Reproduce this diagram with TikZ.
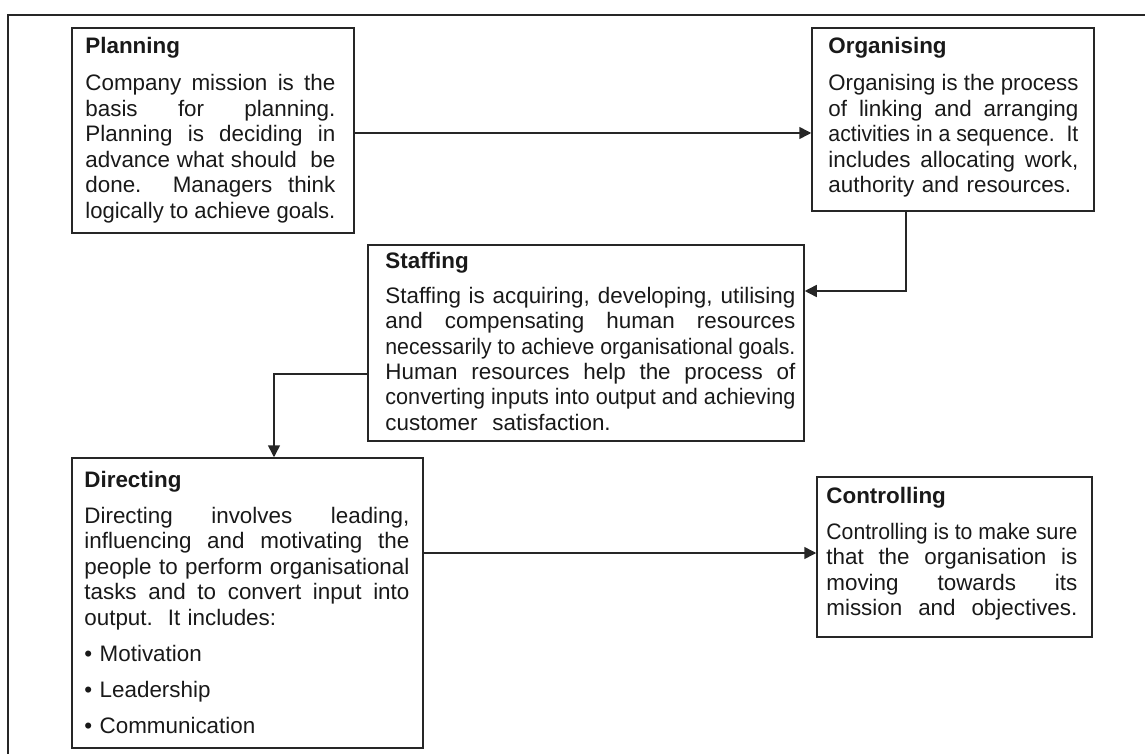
\documentclass[tikz,border=0pt]{standalone}
\usepackage{fontspec}
\usepackage{graphicx}
\setmainfont{Liberation Sans}
\usetikzlibrary{arrows.meta,fit}
\hbadness=10000
\hfuzz=30pt

% a line set to the full text width: spaces stretch when it is short,
% the whole line is narrowed a little when it is too long
\newdimen\lineht
\newsavebox{\linebox}
\newcommand{\fitline}[1]{\leavevmode{%
  \spaceskip=0.278em plus 3em minus 0.05em
  \xspaceskip=0.278em plus 3em minus 0.05em
  \sbox{\linebox}{#1}%
  \ifdim\wd\linebox>\hsize
    \lineht=\ht\linebox
    \resizebox{\hsize}{\lineht}{\usebox{\linebox}}%
  \else
    \hbox to \hsize{#1}%
  \fi}}
\newcommand{\jline}[1]{\fitline{#1}\\}
\newcommand{\pline}[1]{#1\\}

\begin{document}
\begin{tikzpicture}[x=0.5pt,y=-0.5pt,
  ink/.style={draw=black!85, line width=0.75pt},
  box/.style={ink, inner sep=0pt, rectangle},
  head/.style={anchor=base west, inner sep=0pt,
    font=\fontsize{11.2}{12.75}\selectfont\bfseries, text=black!90},
  body/.style={anchor=base west, inner sep=0pt, align=left,
    font=\fontsize{11.2}{12.75}\selectfont, text=black!90},
  link/.style={ink, -{Triangle[length=6pt,width=6pt]}}]

\useasboundingbox (0,0) rectangle (1145,754);

% outer frame
\draw[ink] (8,754) -- (8,15) -- (1145,15);

% boxes
\node[box, fit={(72,28) (354,233)}]   (pl)  {};
\node[box, fit={(812,28) (1094,211)}] (org) {};
\node[box, fit={(368,245) (804,441)}] (st)  {};
\node[box, fit={(72,458) (423,748)}]  (dir) {};
\node[box, fit={(817,477) (1092,637)}] (ctl) {};

% Planning
\node[head] (plh) at (85,54) {Planning};
\node[body, text width=125pt] (plb) at (85,90.7) {%
\jline{Company mission is the}
\jline{basis for planning.}
\jline{Planning is deciding in}
\jline{advance what should\ \ be}
\jline{done.\ \ Managers think}
\fitline{logically to achieve goals.}};

% Organising
\node[head] (orgh) at (828,54) {Organising};
\node[body, text width=125pt] (orgb) at (828,90.7) {%
\jline{Organising is the process}
\jline{of linking and arranging}
\jline{activities in a sequence.\ \ It}
\jline{includes allocating work,}
{authority\ and\ resources.}};

% Staffing
\node[head] (sth) at (385,269) {Staffing};
\node[body, text width=205pt] (stb) at (385,303) {%
\jline{Staffing is acquiring, developing, utilising}
\jline{and compensating human resources}
\jline{necessarily to achieve organisational goals.}
\jline{Human resources help the process of}
\jline{converting inputs into output and achieving}
{customer\ \ satisfaction.}};

% Directing
\node[head] (dirh) at (84,487) {Directing};
\node[body, text width=162.5pt] (dirb) at (84,523) {%
\jline{Directing involves leading,}
\jline{influencing and motivating the}
\jline{people to perform organisational}
\jline{tasks and to convert input into}
\pline{output.\ \ It includes:}[5.3pt]
\pline{• Motivation}[5.3pt]
\pline{• Leadership}[5.3pt]
{• Communication}};

% Controlling
\node[head] (ctlh) at (826,503) {Controlling};
\node[body, text width=125.5pt] (ctlb) at (826,539) {%
\jline{Controlling is to make sure}
\jline{that the organisation is}
\jline{moving towards its}
\fitline{mission and objectives.}};

% connector routing points
\coordinate (a1) at (0,133);
\coordinate (k1) at (906,291);
\coordinate (k2) at (274,374);
\coordinate (a2) at (0,553);

% connectors
\draw[link] (pl.east |- a1) -- (org.west |- a1);
\draw[link] (org.south -| k1) -- (k1) -- (st.east |- k1);
\draw[link] (st.west |- k2) -- (k2) -- (dir.north -| k2);
\draw[link] (dir.east |- a2) -- (ctl.west |- a2);

\end{tikzpicture}
\end{document}
